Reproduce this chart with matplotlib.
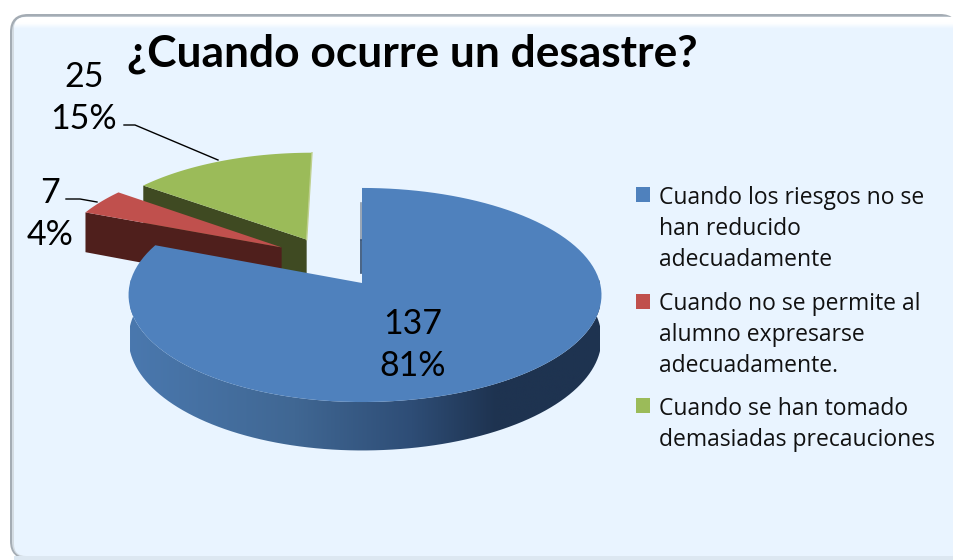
import matplotlib
matplotlib.use('Agg')
import matplotlib.pyplot as plt
from matplotlib.colors import LinearSegmentedColormap
from matplotlib.patches import FancyBboxPatch, Polygon, Rectangle
import numpy as np

title = '¿Cuando ocurre un desastre?'
categories = ['Cuando los riesgos no se\nhan reducido\nadecuadamente',
              'Cuando no se permite al\nalumno expresarse\nadecuadamente.',
              'Cuando se han tomado\ndemasiadas precauciones']
counts = [137, 7, 25]
percents = ['81%', '4%', '15%']
top_colors = ['#4F81BD', '#C0504D', '#9BBB59']
wall_colors = ['#2C4A70', '#4F1F1C', '#3F4A22']

# pie geometry in screen pixels, k is the perspective strength
cx, cy = 362, 283
rx_left, rx_right = 232, 238
ry = 105.7
k = 0.112
depth = 43
# how far each slice is pulled out, in units of the radius
offsets = [(0, 0), (-0.36, -0.35), (-0.25, -0.43)]


def project(u, v, drop=0):
    w = 1 - k * v
    rx = np.where(np.asarray(u) > 0, rx_right, rx_left)
    return cx + rx * u / w, cy + ry * v / w + drop / w


def arc(a0, a1, off, drop=0, n=120):
    a = np.radians(np.linspace(a0, a1, n))
    return project(np.sin(a) + off[0], -np.cos(a) + off[1], drop)


def draw_slice(i, start, end):
    # cut face on the start side, then the top
    off = offsets[i]
    ap = project(*off)
    ap_low = project(*off, depth)
    xs, ys = arc(start, start, off, n=1)
    xl, yl = arc(start, start, off, depth, n=1)
    ax.add_patch(Polygon([(xs[0], ys[0]), ap, ap_low, (xl[0], yl[0])], fc=wall_colors[i], ec='none'))
    x, y = arc(start, end, off)
    ax.add_patch(Polygon(np.r_[[ap], np.c_[x, y]], fc=top_colors[i], ec='none'))


fig = plt.figure(figsize=(9.54, 5.6), dpi=100)
ax = fig.add_axes([0, 0, 1, 1])
ax.axis('off')

# frame
ax.add_patch(FancyBboxPatch((10, 14), 948, 545, boxstyle='round,pad=0,rounding_size=18',
                            fc='#A4ACB4', ec='none', zorder=0.1))
ax.add_patch(FancyBboxPatch((12, 16.5), 950, 541, boxstyle='round,pad=0,rounding_size=16',
                            fc='#D3DBE2', ec='none', zorder=0.2))
inner = FancyBboxPatch((14, 17), 950, 539, boxstyle='round,pad=0,rounding_size=12',
                       fc='#E9F4FF', ec='none', zorder=0.3)
ax.add_patch(inner)
fade = LinearSegmentedColormap.from_list('fade', ['white', 'white', '#E9F4FF'])
im = ax.imshow(np.linspace(0, 1, 32)[:, None], extent=(14, 954, 29, 17), cmap=fade, aspect='auto', zorder=0.4)
im.set_clip_path(inner)
ax.add_patch(Rectangle((14, 556), 940, 4, fc='#DCE7F1', ec='none', zorder=0.5))

# slice angles, clockwise from the top
fracs = np.array(counts) / sum(counts)
ends = np.cumsum(fracs) * 360
starts = np.r_[0, ends[:-1]]

draw_slice(2, starts[2], ends[2])
draw_slice(1, starts[1], ends[1])

# light edge on the green slice
gx, gy = arc(ends[2], ends[2], offsets[2], n=1)
ap_x, ap_y = project(*offsets[2])
ax.plot([gx[0], ap_x], [gy[0], ap_y], color='#BFD08F', lw=1, zorder=1.2)

# blue slice, the outer wall has a left to right gradient
xt, yt = arc(70, 290, offsets[0])
xb, yb = arc(70, 290, offsets[0], depth)
wall = Polygon(np.r_[np.c_[xt, yt], np.c_[xb, yb][::-1]], fc='none', ec='none', zorder=1.4)
ax.add_patch(wall)
cmap = LinearSegmentedColormap.from_list('wall', [(0, '#4A78AE'), (0.35, '#406793'), (0.6, '#2E4D76'),
                                                  (0.78, '#1E3350'), (1, '#1E3350')])
im = ax.imshow(np.linspace(0, 1, 256)[None, :], extent=(130, 600, 460, 280), cmap=cmap, aspect='auto', zorder=1.5)
im.set_clip_path(wall)

x, y = arc(starts[0], ends[0], offsets[0])
ax.add_patch(Polygon(np.r_[[(cx, cy)], np.c_[x, y]], fc=top_colors[0], ec='none', zorder=1.6))
ax.plot([cx - 1, cx - 1], [203, 240], color='#8A97A8', lw=1.2, zorder=1.7)
ax.plot([cx - 1, cx - 1], [240, 273], color='#2C4A70', lw=1.2, zorder=1.7)

# title and labels
ax.text(412, 67, title, fontsize=31.9, fontweight='bold', family='Lato', ha='center', va='baseline')
ax.text(413, 345, f'{counts[0]}\n{percents[0]}', fontsize=24.5, family='Lato', ha='center',
        va='center', linespacing=1.39)
ax.text(50, 214, f'{counts[1]}\n{percents[1]}', fontsize=24.5, family='Lato', ha='center',
        va='center', linespacing=1.39)
ax.text(84, 98, f'{counts[2]}\n{percents[2]}', fontsize=24.5, family='Lato', ha='center',
        va='center', linespacing=1.39)

# leader lines
ax.plot([124, 135, 218], [125, 125, 160], color='black', lw=1)
ax.plot([66, 80, 97], [199, 199, 202], color='black', lw=1)

# legend
legend_top = [186, 292, 397]
legend_box = [187, 294, 398]
for name, col, ty, by in zip(categories, top_colors, legend_top, legend_box):
    ax.add_patch(Rectangle((636, by), 14, 15, fc=col, ec='none'))
    ax.text(659, ty, name, fontsize=16.5, family='Open Sans', ha='left', va='top',
            linespacing=1.4, color='#111111')

ax.set_xlim(0, 954)
ax.set_ylim(560, 0)

fig.savefig('out.png', dpi=100)
